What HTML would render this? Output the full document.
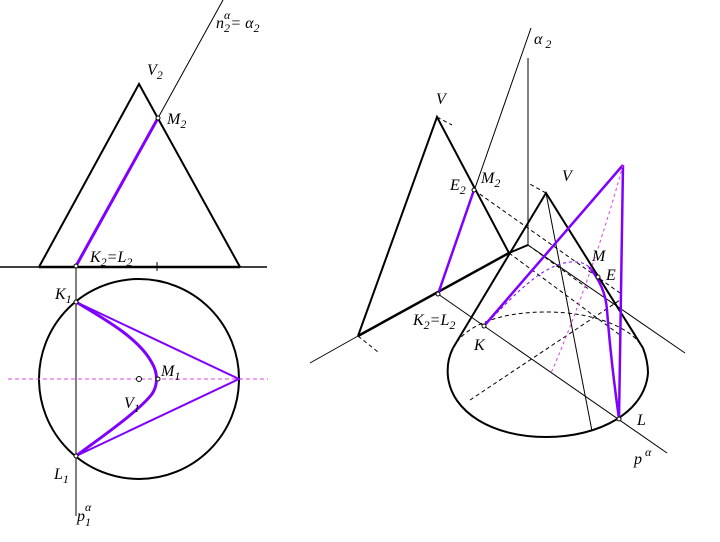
<!DOCTYPE html>
<html><head><style>
body{margin:0;background:#fff}
svg text{font-family:"Liberation Serif",serif;font-style:italic;font-size:16px;fill:#000}
svg text tspan.s{font-size:12px}
</style></head><body>
<svg width="720" height="537" viewBox="0 0 720 537" xmlns="http://www.w3.org/2000/svg">
<g fill="none" stroke="#000">
<!-- LEFT -->
<line x1="0" y1="267" x2="267" y2="267" stroke-width="1.5"/>
<polyline points="39,267 139,84 240,267" stroke-width="2"/>
<line x1="39" y1="267" x2="240" y2="267" stroke-width="2.5"/>
<line x1="158" y1="118" x2="223" y2="0" stroke-width="1"/>
<line x1="76" y1="267" x2="76" y2="516" stroke-width="1"/>
<line x1="157" y1="262" x2="157" y2="271" stroke-width="1"/>
<circle cx="139" cy="379" r="100" stroke-width="2"/>
<line x1="8" y1="379" x2="268" y2="379" stroke="#e040e0" stroke-dasharray="4,3"/>
<g stroke="#8000ff">
<line x1="76" y1="266" x2="158" y2="118" stroke-width="3"/>
<polyline points="76,302 239,379 76,456" stroke-width="2"/>
<path d="M76,302 C110,322 140,340 152,363 C158,373 158,385 152,394 C138,412 100,438 76,456" stroke-width="3"/>
</g>
<circle cx="139" cy="379" r="2.5" fill="#fff" stroke-width="1"/>
<circle cx="158" cy="379" r="2" fill="#fff" stroke-width="1"/>
<circle cx="158" cy="118" r="2" fill="#fff" stroke-width="1"/>
<circle cx="76" cy="266" r="2" fill="#fff" stroke-width="1"/>
<circle cx="76" cy="302" r="2" fill="#fff" stroke-width="1"/>
<circle cx="76" cy="456" r="2" fill="#fff" stroke-width="1"/>

<!-- RIGHT -->
<line x1="531" y1="28" x2="438" y2="294" stroke-width="1"/>
<line x1="528" y1="58" x2="528" y2="245" stroke-width="1"/>
<line x1="528" y1="245" x2="685" y2="353" stroke-width="1"/>
<line x1="438" y1="294" x2="667" y2="453" stroke-width="1"/>
<line x1="310" y1="363" x2="358" y2="336" stroke-width="1"/>
<line x1="358" y1="336" x2="378" y2="352" stroke-dasharray="4,3" stroke-width="1"/>
<polyline points="358,336 437,117 509,253" stroke-width="2"/>
<line x1="358" y1="336" x2="509" y2="253" stroke-width="2.5"/>
<line x1="509" y1="253" x2="528" y2="245" stroke-width="2"/>
<g stroke-dasharray="4,3" stroke-width="1">
<line x1="437" y1="117" x2="452" y2="125"/>
<line x1="437" y1="117" x2="509" y2="253"/>
<line x1="474" y1="190" x2="620" y2="293"/>
<line x1="546" y1="193" x2="528" y2="183"/>
<line x1="509" y1="253" x2="620" y2="335"/>
<line x1="528" y1="245" x2="590" y2="290"/>
<line x1="470" y1="400" x2="620" y2="300"/>
<path d="M453,348 C465,325 500,312 546,312 C595,312 632,328 643,348"/>
</g>
<line x1="546" y1="193" x2="592" y2="431" stroke-width="1"/>
<polyline points="453,348 546,193 643,348" stroke-width="2"/>
<path d="M453,348 C448,358 447,368 448,377 C452,412 492,437 546,437 C600,437 645,412 648,373 C648,365 646,356 643,348" stroke-width="2"/>
<g stroke="#8000ff">
<line x1="438" y1="294" x2="474" y2="190" stroke-width="2.5"/>
<line x1="484" y1="326" x2="623" y2="165" stroke-width="2.5"/>
<line x1="623" y1="165" x2="619" y2="419" stroke-width="2.5"/>
<path d="M589,267 C600,280 606,295 607,310 C610,350 615,390 619,419" stroke-width="2.5"/>
<path d="M484,326 C510,300 540,265 570,262 C580,261 586,264 589,267" stroke-width="1" stroke-dasharray="3,3"/>
</g>
<path d="M623,165 C600,250 570,330 551,373" stroke="#e040e0" stroke-dasharray="3,3" stroke-width="1"/>
<circle cx="474" cy="190" r="2" fill="#fff" stroke-width="1"/>
<circle cx="438" cy="294" r="2" fill="#fff" stroke-width="1"/>
<circle cx="484" cy="326" r="2" fill="#fff" stroke-width="1"/>
<circle cx="619" cy="419" r="2" fill="#fff" stroke-width="1"/>
<circle cx="598" cy="277" r="2" fill="#fff" stroke-width="1"/>
</g>
<text x="216" y="28">n<tspan class="s" dy="4">2</tspan><tspan class="s" dx="-6" dy="-13">α</tspan><tspan dy="9">= α</tspan><tspan class="s" dy="4">2</tspan></text>
<text x="147" y="75">V<tspan class="s" dy="4">2</tspan></text>
<text x="167" y="124">M<tspan class="s" dy="4">2</tspan></text>
<text x="90" y="262">K<tspan class="s" dy="4">2</tspan><tspan dy="-4">=L</tspan><tspan class="s" dy="4">2</tspan></text>
<text x="55" y="299">K<tspan class="s" dy="4">1</tspan></text>
<text x="161" y="376">M<tspan class="s" dy="4">1</tspan></text>
<text x="124" y="408">V<tspan class="s" dy="4">1</tspan></text>
<text x="54" y="479">L<tspan class="s" dy="4">1</tspan></text>
<text x="77" y="521">p<tspan class="s" dy="5">1</tspan><tspan class="s" dx="-6" dy="-15">α</tspan></text>
<text x="534" y="44">α<tspan class="s" dy="4"> 2</tspan></text>
<text x="436" y="104">V</text>
<text x="481" y="183">M<tspan class="s" dy="4">2</tspan></text>
<text x="450" y="190">E<tspan class="s" dy="4">2</tspan></text>
<text x="562" y="181">V</text>
<text x="592" y="261">M</text>
<text x="606" y="280">E</text>
<text x="413" y="325">K<tspan class="s" dy="4">2</tspan><tspan dy="-4">=L</tspan><tspan class="s" dy="4">2</tspan></text>
<text x="474" y="350">K</text>
<text x="637" y="425">L</text>
<text x="634" y="464">p<tspan class="s" dx="3" dy="-8">α</tspan></text>
</svg>
</body></html>
